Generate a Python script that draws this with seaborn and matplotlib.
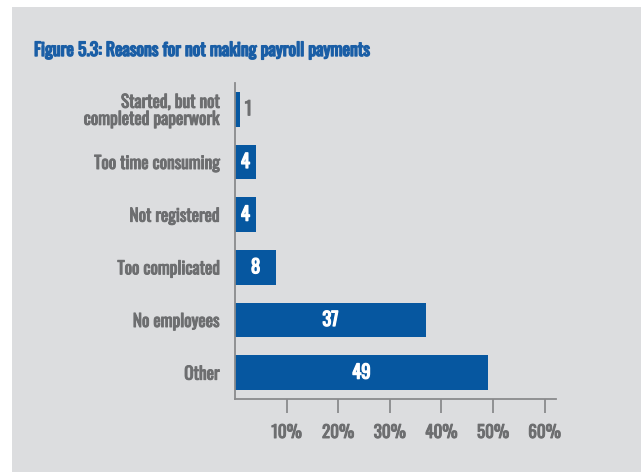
import matplotlib
matplotlib.use("Agg")
import matplotlib.pyplot as plt
import matplotlib.patheffects as pe
from matplotlib.patches import Rectangle
import seaborn as sns
import pandas as pd

categories = ["Started, but not\ncompleted paperwork", "Too time consuming",
              "Not registered", "Too complicated", "No employees", "Other"]
values = [1, 4, 4, 8, 37, 49]
tick_values = [10, 20, 30, 40, 50, 60]
tick_labels = ["10%", "20%", "30%", "40%", "50%", "60%"]
title = "Figure 5.3: Reasons for not making payroll payments"

BG = "#dcdddf"
BLUE = "#0657a0"
TITLE_BLUE = "#1a5ea6"
GREY = "#6d6e70"
AXIS = "#8a8a8c"

sns.set_theme(style="white")
plt.rcParams["font.family"] = ["Oswald", "Barlow Condensed", "DejaVu Sans"]


def heavy(color, lw):
    # thicken the condensed face with a thin outline of the same colour
    return [pe.withStroke(linewidth=lw, foreground=color)]


df = pd.DataFrame({"reason": categories, "pct": values})

fig = plt.figure(figsize=(6.41, 4.72), dpi=100, facecolor="white")
fig.patches.append(Rectangle((12 / 641, 0), 1, 1 - 7 / 472, transform=fig.transFigure,
                             facecolor=BG, edgecolor="none", zorder=-10))
ax = fig.add_axes([235 / 641, 73 / 472, 321 / 641, 316 / 472])
ax.set_facecolor(BG)

sns.barplot(data=df, x="pct", y="reason", orient="h", color=BLUE,
            saturation=1, width=0.66, linewidth=0, ax=ax)

ax.set_xlim(0, 62.2)
ax.set_ylim(len(categories) - 0.5, -0.5)
ax.set_xticks(tick_values)
ax.set_xticklabels(tick_labels)
ax.set_xlabel("")
ax.set_ylabel("")

for side in ["top", "right"]:
    ax.spines[side].set_visible(False)
for side in ["left", "bottom"]:
    ax.spines[side].set_color(AXIS)
    ax.spines[side].set_linewidth(1.3)

ax.tick_params(axis="x", bottom=True, direction="out", length=10, width=1.3,
               color=AXIS, labelcolor=GREY, labelsize=12.3, pad=8)
ax.tick_params(axis="y", left=False, length=0, labelcolor=GREY, labelsize=12.5, pad=11)
for lab in ax.get_xticklabels() + ax.get_yticklabels():
    lab.set_path_effects(heavy(GREY, 0.7))
for lab in ax.get_yticklabels():
    lab.set_linespacing(1.0)

for i, v in enumerate(values):
    if v < 3:
        ax.text(v + 0.9, i, str(v), ha="left", va="center", color=GREY, fontsize=13.5,
                path_effects=heavy(GREY, 0.7))
    else:
        ax.text(v / 2, i, str(v), ha="center", va="center", color="white",
                fontsize=13.5, path_effects=heavy("white", 0.9))

fig.text(34 / 641, 1 - 50 / 472, title, ha="left", va="center", color=TITLE_BLUE,
         fontsize=12.8, path_effects=heavy(TITLE_BLUE, 1.0))

fig.savefig("out.png", dpi=100, facecolor="white")
